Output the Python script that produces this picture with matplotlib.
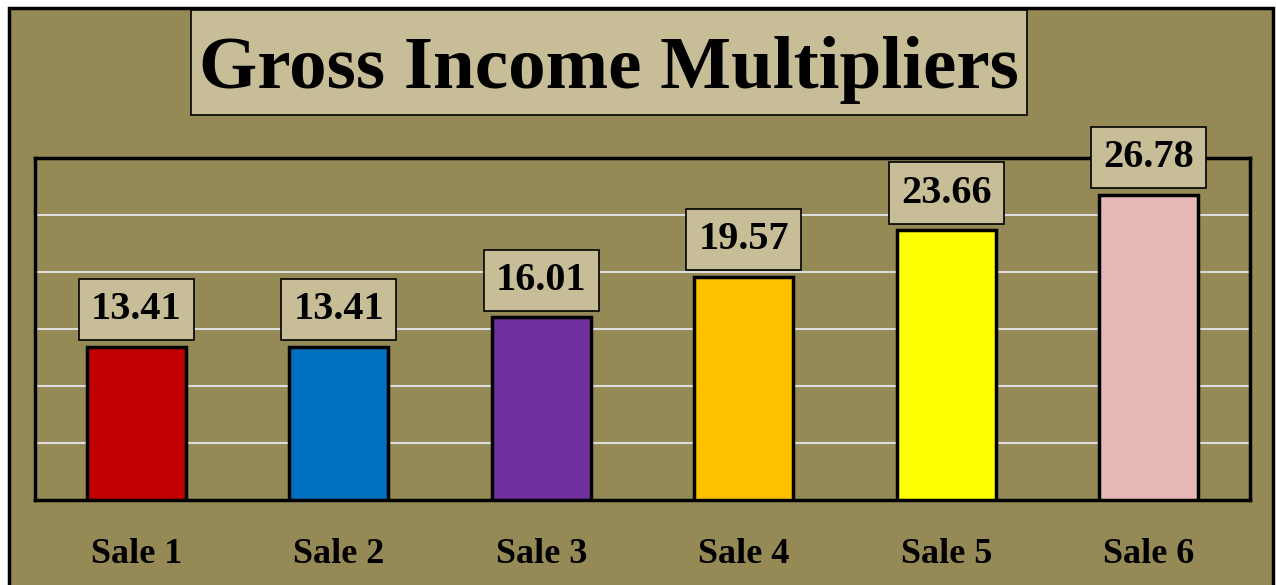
import numpy as np
import matplotlib.pyplot as plt
from matplotlib.patches import Rectangle

sales = ['Sale 1', 'Sale 2', 'Sale 3', 'Sale 4', 'Sale 5', 'Sale 6']
gim = [13.41, 13.41, 16.01, 19.57, 23.66, 26.78]
bar_colors = ['#C00000', '#0070C0', '#7030A0', '#FFC000', '#FFFF00', '#E6B8B7']

olive = '#958A55'
beige = '#C7BE98'
serif = ['Liberation Serif', 'DejaVu Serif']

fig = plt.figure(figsize=(12.76, 5.85), dpi=100)
fig.patch.set_facecolor('white')

# olive panel with black frame, running off the bottom edge
W, H = 1276, 585
fig.patches.append(Rectangle((9 / W, -0.05), (1273 - 9) / W, (577 - 0) / H + 0.05,
                             transform=fig.transFigure, facecolor=olive,
                             edgecolor='black', lw=2.5, zorder=-10))
# title box
fig.patches.append(Rectangle((191 / W, 1 - 115 / H), (1027 - 191) / W, (115 - 10) / H,
                             transform=fig.transFigure, facecolor=beige,
                             edgecolor='black', lw=1.2, zorder=-5))

ax = fig.add_axes([35 / W, (H - 500) / H, (1250 - 35) / W, (500 - 158) / H])
ax.set_facecolor(olive)
x = np.arange(len(sales))
ax.bar(x, gim, width=0.49, color=bar_colors, edgecolor='black', lw=2.5, zorder=3)

ax.set_xlim(-0.5, len(sales) - 0.5)
ax.set_ylim(0, 30)
ax.set_yticks(np.arange(5, 30, 5))
ax.yaxis.grid(True, color='#DDDDDD', lw=1.5, zorder=1)
ax.tick_params(axis='y', left=False, labelleft=False)
ax.tick_params(axis='x', bottom=False, pad=24)
ax.set_xticks(x)
ax.set_xticklabels(sales, fontsize=26, fontweight='bold', family=serif)
for s in ax.spines.values():
    s.set_linewidth(2.5)

for xi, v in zip(x, gim):
    ax.annotate(f'{v:.2f}', (xi, v), xytext=(0, 13.5), textcoords='offset points',
                ha='center', va='bottom', fontsize=29, fontweight='bold', family=serif,
                bbox=dict(boxstyle='square,pad=0.3', fc=beige, ec='black', lw=1.2),
                zorder=4, annotation_clip=False)

fig.text(609 / W, 1 - 70 / H, 'Gross Income Multipliers', ha='center', va='center',
         fontsize=54, fontweight='bold', family=serif)

fig.savefig('out.png', dpi=100)
